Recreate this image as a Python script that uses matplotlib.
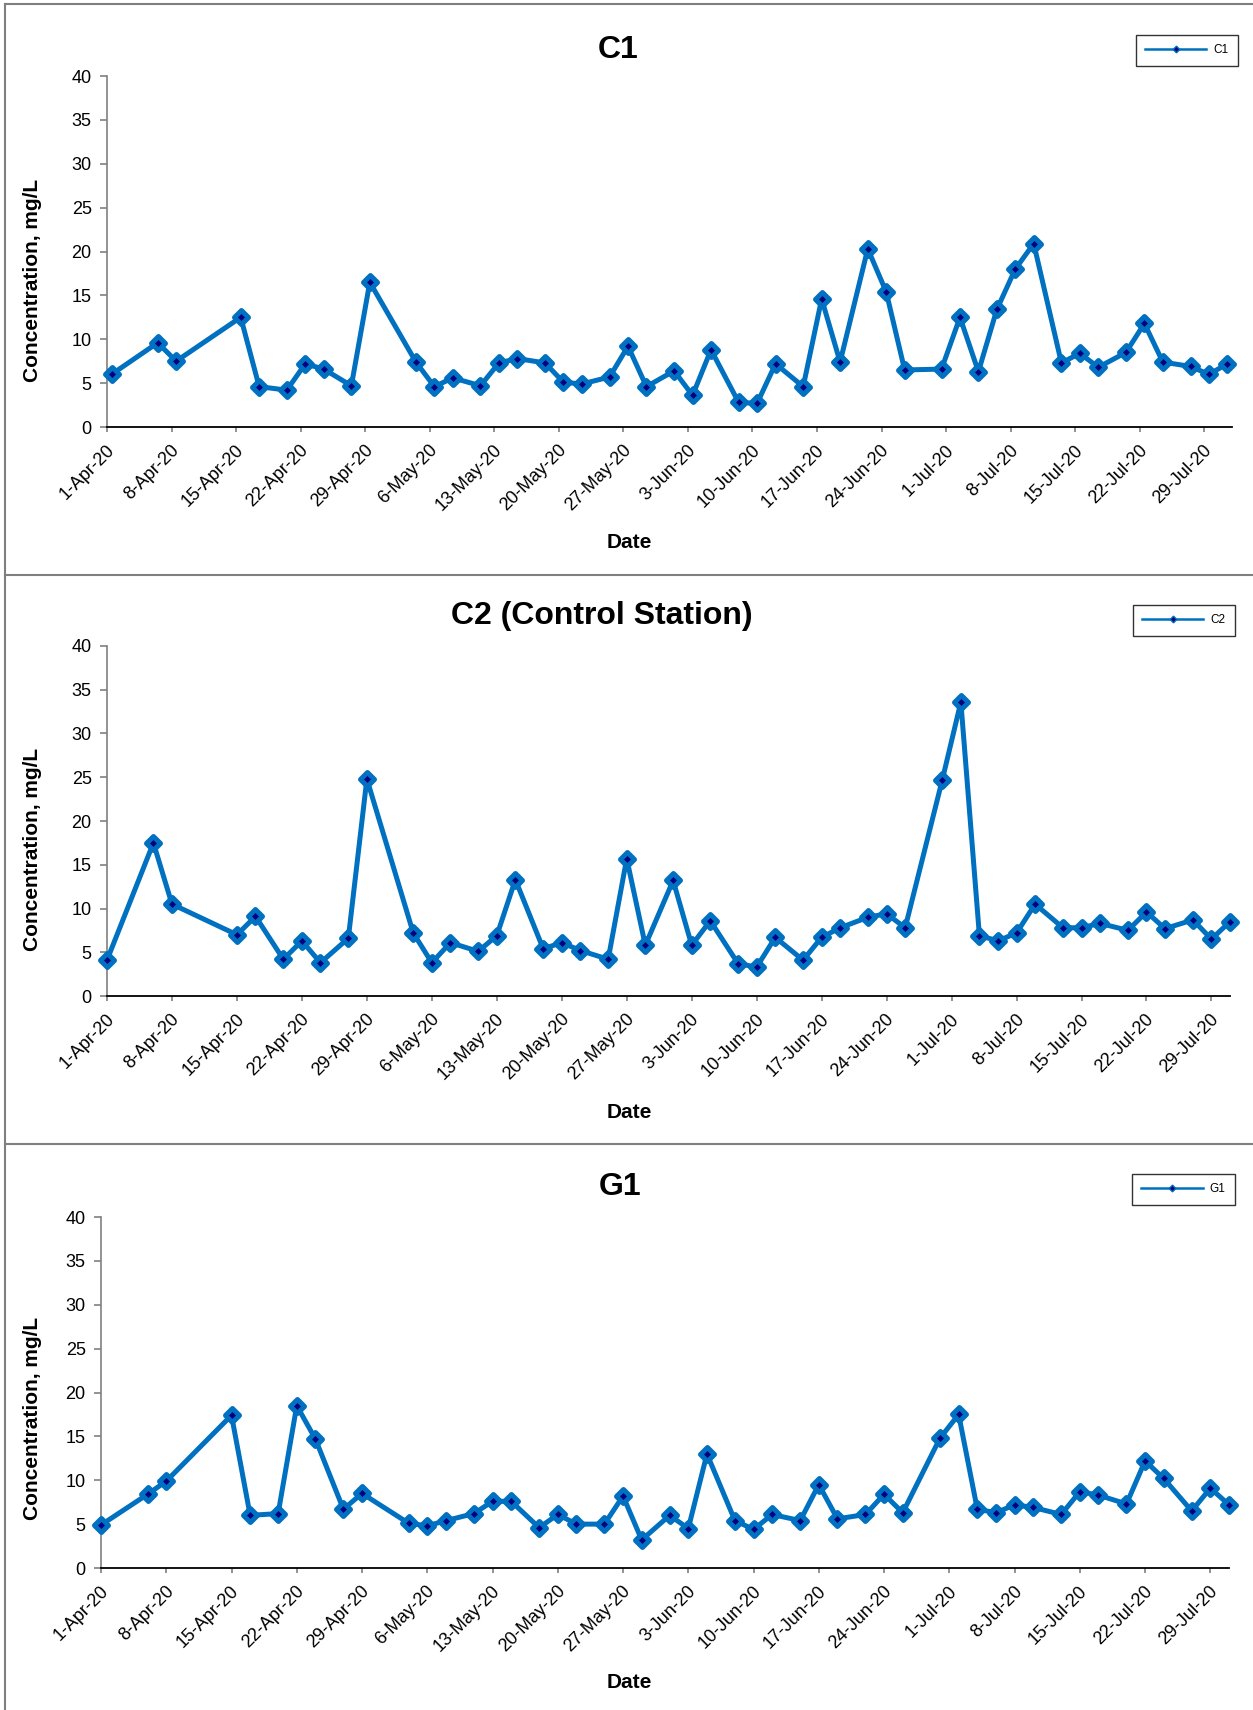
import pandas as pd
import numpy as np
import matplotlib
matplotlib.use('Agg')
import matplotlib.pyplot as plt
import matplotlib.dates as mdates
import matplotlib.transforms as mtransforms
from matplotlib.lines import Line2D
from matplotlib.markers import MarkerStyle

plt.rcParams['font.family'] = ['Liberation Sans', 'DejaVu Sans']

# sampling dates (same for all three stations)
dates = pd.to_datetime([
    '2020-04-01', '2020-04-06', '2020-04-08', '2020-04-15', '2020-04-17', '2020-04-20', '2020-04-22',
    '2020-04-24', '2020-04-27', '2020-04-29', '2020-05-04', '2020-05-06', '2020-05-08', '2020-05-11',
    '2020-05-13', '2020-05-15', '2020-05-18', '2020-05-20', '2020-05-22', '2020-05-25', '2020-05-27',
    '2020-05-29', '2020-06-01', '2020-06-03', '2020-06-05', '2020-06-08', '2020-06-10', '2020-06-12',
    '2020-06-15', '2020-06-17', '2020-06-19', '2020-06-22', '2020-06-24', '2020-06-26', '2020-06-30',
    '2020-07-02', '2020-07-04', '2020-07-06', '2020-07-08', '2020-07-10', '2020-07-13', '2020-07-15',
    '2020-07-17', '2020-07-20', '2020-07-22', '2020-07-24', '2020-07-27', '2020-07-29', '2020-07-31'])

c1 = [6.0, 9.6, 7.5, 12.5, 4.6, 4.2, 7.2, 6.6, 4.7, 16.5, 7.4, 4.6, 5.6, 4.7, 7.3, 7.8, 7.3, 5.1,
      4.9, 5.7, 9.2, 4.6, 6.4, 3.6, 8.8, 2.8, 2.7, 7.2, 4.6, 14.6, 7.4, 20.3, 15.4, 6.5, 6.6, 12.5,
      6.3, 13.4, 18.0, 20.9, 7.3, 8.4, 6.8, 8.5, 11.8, 7.4, 6.9, 6.0, 7.2]
c2 = [4.1, 17.5, 10.5, 7.0, 9.1, 4.2, 6.3, 3.8, 6.6, 24.8, 7.2, 3.8, 6.1, 5.1, 6.9, 13.3, 5.4, 6.1,
      5.2, 4.2, 15.7, 5.8, 13.2, 5.8, 8.6, 3.7, 3.3, 6.7, 4.1, 6.7, 7.8, 9.0, 9.4, 7.8, 24.7, 33.6,
      6.9, 6.3, 7.2, 10.5, 7.8, 7.8, 8.3, 7.5, 9.6, 7.7, 8.7, 6.5, 8.5]
g1 = [4.9, 8.4, 9.9, 17.4, 6.0, 6.2, 18.5, 14.7, 6.7, 8.5, 5.1, 4.8, 5.4, 6.2, 7.6, 7.6, 4.6, 6.1,
      5.0, 5.0, 8.2, 3.2, 6.0, 4.5, 13.0, 5.4, 4.4, 6.1, 5.4, 9.5, 5.6, 6.1, 8.4, 6.3, 14.8, 17.5,
      6.7, 6.3, 7.2, 6.9, 6.1, 8.7, 8.3, 7.3, 12.2, 10.2, 6.5, 9.1, 7.2]

titles = ['C1', 'C2 (Control Station)', 'G1']
series_names = ['C1', 'C2', 'G1']
series = [c1, c2, g1]

W, H = 1253, 1710
fig = plt.figure(figsize=(W / 100, H / 100), dpi=100)

def px(x0, y_top, x1, y_bot):
    return [x0 / W, 1 - y_bot / H, (x1 - x0) / W, (y_bot - y_top) / H]

# plot-area boxes in pixels: left, top(40), right, bottom(0)
areas = [(107, 76, 1232, 427), (107, 646, 1230, 996), (101, 1217, 1229, 1568)]
title_pos = [(618, 50), (602, 616), (620, 1187)]
ylabel_pos = [(33, 280), (33, 849), (33, 1418)]
xlabel_pos = [(629, 543), (629, 1112), (629, 1682)]
legend_pos = [(1238, 35), (1235, 605), (1235, 1174)]
xlims = [('2020-04-01', '2020-08-01'), ('2020-04-01', '2020-07-31'), ('2020-04-01', '2020-07-31')]
# the C1 chart puts its points mid-day
shifts = [pd.Timedelta(hours=12), pd.Timedelta(0), pd.Timedelta(0)]

blue = '#0070C0'
navy = '#000080'
diamond = MarkerStyle('D', joinstyle='round')
ticks = pd.date_range('2020-04-01', '2020-07-29', freq='7D')
fmt = plt.FuncFormatter(lambda v, p: '{}-{}'.format(mdates.num2date(v).day, mdates.num2date(v).strftime('%b-%y')))

for i in range(3):
    ax = fig.add_axes(px(*areas[i]))
    ax.plot(dates + shifts[i], series[i], color=blue, lw=3.6, marker=diamond, ms=7,
            mfc=navy, mec=blue, mew=3.6, solid_joinstyle='round', clip_on=False, zorder=3)
    ax.set_ylim(0, 40)
    ax.set_yticks(range(0, 41, 5))
    ax.set_xlim(pd.Timestamp(xlims[i][0]), pd.Timestamp(xlims[i][1]))
    ax.set_xticks(ticks)
    ax.xaxis.set_major_formatter(fmt)
    for s in ['top', 'right']:
        ax.spines[s].set_visible(False)
    ax.spines['left'].set_color('#808080')
    ax.spines['left'].set_linewidth(1.2)
    ax.spines['bottom'].set_color('black')
    ax.spines['bottom'].set_linewidth(1.3)
    ax.tick_params(axis='y', direction='out', length=5, width=1.2, color='#808080', pad=6, labelsize=13)
    ax.tick_params(axis='x', direction='out', length=3.8, width=1.2, color='#808080', pad=11, labelsize=13)
    off = mtransforms.ScaledTranslation(0.05, 0, fig.dpi_scale_trans)
    for lab in ax.get_xticklabels():
        lab.set_rotation(45)
        lab.set_ha('right')
        lab.set_va('center')
        lab.set_rotation_mode('anchor')
        lab.set_transform(lab.get_transform() + off)

    fig.text(title_pos[i][0] / W, 1 - title_pos[i][1] / H, titles[i], fontsize=23,
             fontweight='bold', ha='center', va='center')
    fig.text(ylabel_pos[i][0] / W, 1 - ylabel_pos[i][1] / H, 'Concentration, mg/L', fontsize=15,
             fontweight='bold', rotation=90, ha='center', va='center')
    fig.text(xlabel_pos[i][0] / W, 1 - xlabel_pos[i][1] / H, 'Date', fontsize=15,
             fontweight='bold', ha='center', va='center')

    handle = Line2D([], [], color=blue, lw=1.8, marker='D', ms=3.4, mfc=navy, mec=blue, mew=1)
    leg = ax.legend([handle], [series_names[i]], loc='upper right',
                    bbox_to_anchor=(legend_pos[i][0] / W, 1 - legend_pos[i][1] / H),
                    bbox_transform=fig.transFigure, fontsize=8.5, frameon=True, fancybox=False,
                    borderpad=0.8, handlelength=5.2, handletextpad=0.6, borderaxespad=0)
    leg.get_frame().set_edgecolor('black')
    leg.get_frame().set_linewidth(1.0)

# chart borders
bc = '#7f7f7f'
for y in [4.5, 574.5, 1143.5]:
    fig.add_artist(Line2D([4.5 / W, 1], [1 - y / H, 1 - y / H], color=bc, lw=1.5))
fig.add_artist(Line2D([4.5 / W, 4.5 / W], [1 - 4.5 / H, 0], color=bc, lw=1.5))

fig.savefig('out.png', dpi=100)
